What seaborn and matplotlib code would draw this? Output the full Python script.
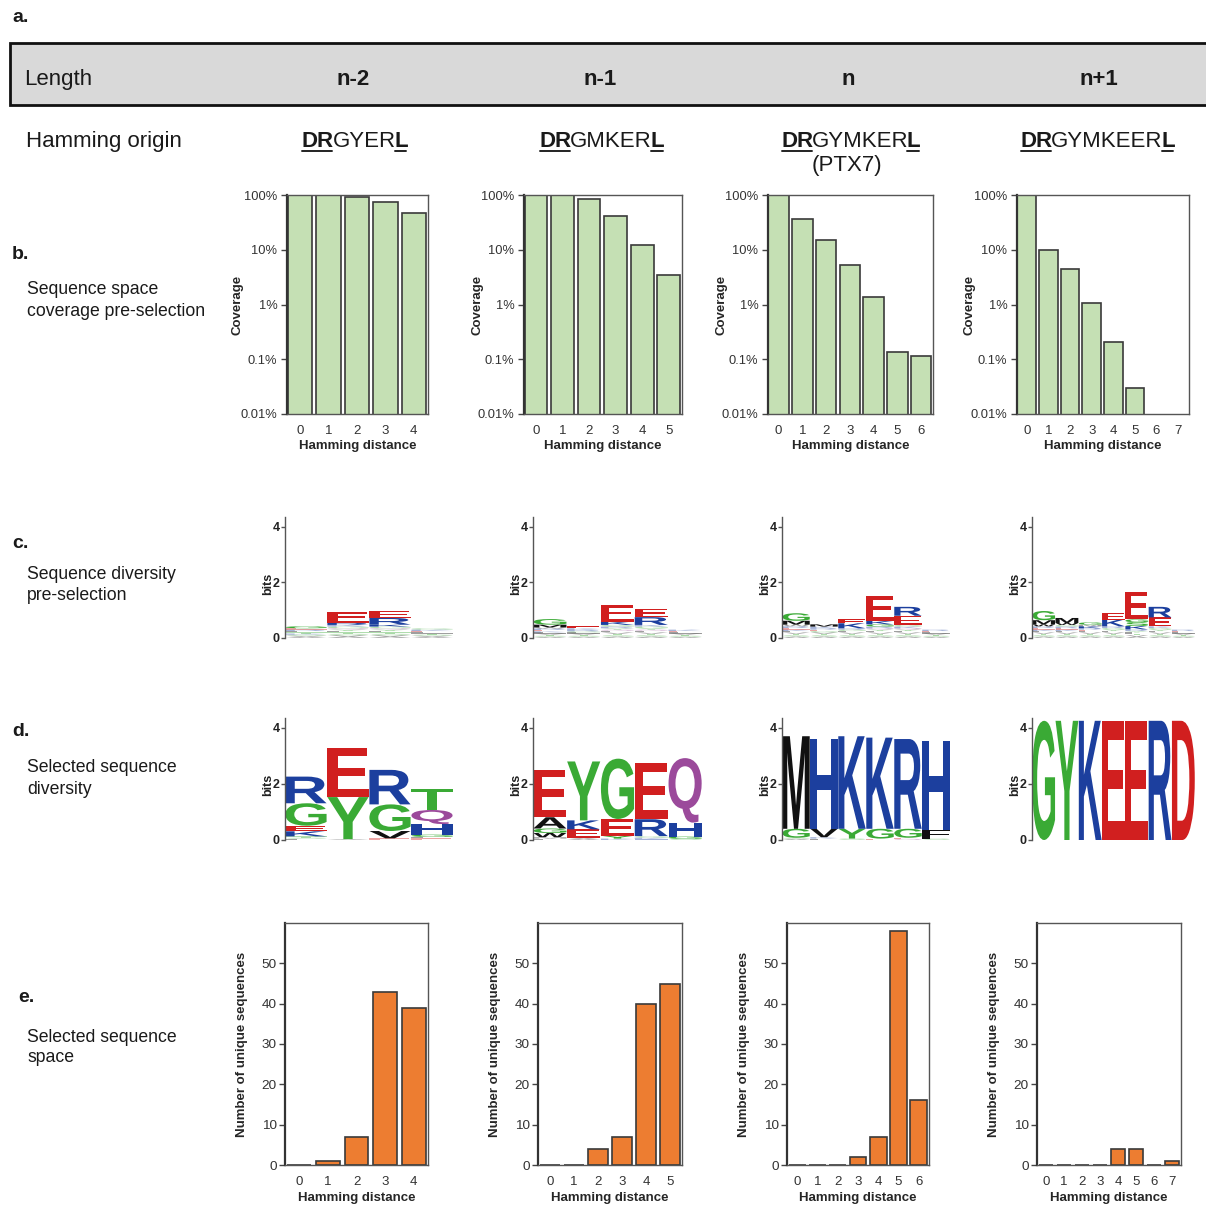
import numpy as np
import matplotlib
matplotlib.use("Agg")
import matplotlib.pyplot as plt
import seaborn as sns
from matplotlib.textpath import TextPath
from matplotlib.patches import PathPatch, Rectangle
from matplotlib.font_manager import FontProperties
from matplotlib.lines import Line2D
from matplotlib.ticker import NullLocator
import matplotlib.transforms as mtransforms

# ---------------- data ----------------
LENGTHS = ["n-2", "n-1", "n", "n+1"]
ORIGIN_MID = ["GYER", "GMKER", "GYMKER", "GYMKEER"]
ORIGIN_NOTE = ["", "", "(PTX7)", ""]

HD_N2 = [0, 1, 2, 3, 4]
HD_N1 = [0, 1, 2, 3, 4, 5]
HD_N = [0, 1, 2, 3, 4, 5, 6]
HD_NP1 = [0, 1, 2, 3, 4, 5, 6, 7]

# coverage pre-selection (%)
COV_N2 = [100, 100, 93, 73, 47]
COV_N1 = [100, 100, 83, 41, 12.3, 3.4]
COV_N = [100, 37, 15, 5.2, 1.38, 0.134, 0.117]
COV_NP1 = [100, 9.8, 4.4, 1.07, 0.21, 0.03, np.nan, np.nan]

# selected unique sequences
SEL_N2 = [0, 1, 7, 43, 39]
SEL_N1 = [0, 0, 4, 7, 40, 45]
SEL_N = [0, 0, 0, 2, 7, 58, 16]
SEL_NP1 = [0, 0, 0, 0, 4, 4, 0, 1]

COV_TICKS = [100, 10, 1, 0.1, 0.01]
COV_TICKLABELS = ["100%", "10%", "1%", "0.1%", "0.01%"]
SEL_TICKS = [0, 10, 20, 30, 40, 50]

# sequence logos: per position, letters bottom->top with heights in bits
PRE_N2 = [
    [("A", .04), ("V", .04), ("S", .04), ("K", .04), ("T", .04), ("L", .05), ("R", .05), ("E", .05), ("G", .07)],
    [("A", .05), ("V", .05), ("S", .05), ("T", .05), ("L", .05), ("Y", .05), ("Q", .05), ("G", .06), ("K", .06), ("R", .08), ("E", .38)],
    [("A", .05), ("V", .05), ("S", .05), ("T", .05), ("L", .05), ("Y", .05), ("Q", .05), ("G", .06), ("K", .07), ("R", .24), ("E", .24)],
    [("A", .04), ("V", .04), ("S", .04), ("T", .04), ("L", .04), ("E", .05), ("K", .05), ("G", .05)],
]
PRE_N1 = [
    [("A", .04), ("S", .04), ("T", .04), ("V", .04), ("L", .04), ("K", .04), ("E", .05), ("R", .05), ("W", .04), ("M", .10), ("G", .20)],
    [("A", .04), ("S", .04), ("T", .04), ("V", .04), ("L", .04), ("G", .04), ("R", .05), ("K", .06), ("E", .07)],
    [("A", .05), ("S", .05), ("T", .05), ("V", .05), ("L", .05), ("Q", .05), ("Y", .05), ("R", .06), ("G", .06), ("K", .12), ("E", .60)],
    [("A", .05), ("S", .05), ("T", .05), ("V", .05), ("L", .05), ("Q", .05), ("Y", .05), ("G", .06), ("K", .06), ("R", .28), ("E", .30)],
    [("A", .04), ("S", .04), ("T", .04), ("V", .04), ("L", .04), ("E", .05), ("K", .05)],
]
PRE_N = [
    [("A", .05), ("S", .05), ("T", .05), ("V", .05), ("L", .05), ("K", .05), ("E", .06), ("R", .06), ("W", .06), ("M", .14), ("G", .27)],
    [("A", .05), ("S", .05), ("T", .05), ("V", .05), ("G", .05), ("E", .05), ("R", .05), ("K", .06), ("M", .08)],
    [("A", .05), ("S", .05), ("T", .05), ("V", .05), ("L", .05), ("G", .05), ("R", .05), ("K", .18), ("E", .14)],
    [("A", .05), ("S", .05), ("T", .05), ("V", .05), ("L", .05), ("Y", .05), ("Q", .05), ("R", .06), ("G", .08), ("K", .12), ("E", .90)],
    [("A", .05), ("S", .05), ("T", .05), ("V", .05), ("L", .05), ("Y", .05), ("Q", .05), ("K", .06), ("G", .06), ("E", .33), ("R", .32)],
    [("A", .04), ("S", .04), ("T", .04), ("V", .04), ("L", .04), ("E", .05), ("R", .05)],
]
PRE_NP1 = [
    [("A", .05), ("S", .05), ("T", .05), ("V", .05), ("L", .05), ("K", .05), ("E", .06), ("R", .06), ("W", .07), ("M", .15), ("G", .33)],
    [("A", .05), ("S", .05), ("T", .05), ("V", .05), ("L", .05), ("K", .05), ("E", .05), ("R", .06), ("G", .06), ("W", .07), ("M", .18)],
    [("A", .05), ("S", .05), ("T", .05), ("V", .05), ("L", .05), ("E", .05), ("R", .05), ("K", .07), ("M", .06), ("G", .08)],
    [("A", .05), ("S", .05), ("T", .05), ("V", .05), ("L", .05), ("Y", .05), ("G", .06), ("R", .06), ("K", .24), ("E", .24)],
    [("A", .05), ("V", .05), ("T", .05), ("L", .05), ("Y", .05), ("R", .06), ("K", .12), ("S", .14), ("G", .10), ("E", 1.00)],
    [("A", .05), ("S", .05), ("T", .05), ("V", .05), ("L", .05), ("Y", .05), ("G", .06), ("K", .06), ("E", .32), ("R", .38)],
    [("A", .04), ("S", .04), ("T", .04), ("V", .04), ("L", .04), ("E", .05), ("R", .05)],
]

SEL_LOGO_N2 = [
    [("L", .04), ("S", .04), ("T", .05), ("K", .18), ("E", .20), ("G", .80), ("R", .95)],
    [("A", .03), ("Y", 1.50), ("E", 1.75)],
    [("E", .06), ("V", .26), ("G", .95), ("R", 1.23)],
    [("E", .06), ("L", .05), ("G", .08), ("H", .38), ("Q", .50), ("T", .76)],
]
SEL_LOGO_N1 = [
    [("L", .05), ("M", .05), ("W", .15), ("G", .16), ("A", .40), ("E", 1.70)],
    [("A", .04), ("V", .04), ("E", .30), ("K", .32), ("Y", 2.10)],
    [("K", .05), ("Y", .10), ("E", .60), ("G", 2.15)],
    [("H", .04), ("K", .04), ("G", .06), ("R", .60), ("E", 2.00)],
    [("S", .04), ("G", .08), ("H", .50), ("Q", 2.30)],
]
SEL_LOGO_N = [
    [("A", .04), ("S", .04), ("G", .32), ("M", 3.30)],
    [("L", .05), ("K", .05), ("V", .30), ("H", 3.20)],
    [("S", .05), ("Y", .35), ("K", 3.30)],
    [("E", .05), ("G", .35), ("K", 3.25)],
    [("Q", .04), ("E", .04), ("G", .32), ("R", 3.20)],
    [("S", .05), ("F", .32), ("H", 3.15)],
]
SEL_LOGO_NP1 = [
    [("G", 4.25)], [("Y", 4.25)], [("K", 4.25)], [("E", 4.25)],
    [("E", 4.25)], [("R", 4.25)], [("D", 4.25)],
]

# ---------------- style ----------------
GREEN_BAR = "#c5e0b4"
ORANGE_BAR = "#ed7d31"
EDGE = "#3a3a3a"
TXT = "#1a1a1a"
AA_COL = {}
for c in "GSTYC":
    AA_COL[c] = "#3aaa35"
for c in "KRH":
    AA_COL[c] = "#1c3f9e"
for c in "DE":
    AA_COL[c] = "#d11f1f"
for c in "QN":
    AA_COL[c] = "#9b4a9b"
for c in "AVLIPWFM":
    AA_COL[c] = "#111111"

sns.set_theme(style="white")
plt.rcParams["font.family"] = ["Liberation Sans", "DejaVu Sans"]
plt.rcParams["text.color"] = TXT

W, H = 1206, 1207
fig = plt.figure(figsize=(W / 100, H / 100), dpi=100)
fig.patch.set_facecolor("white")


def add_ax(x0, y0, x1, y1):
    return fig.add_axes([x0 / W, 1 - y1 / H, (x1 - x0) / W, (y1 - y0) / H])


def ftext(x, y, s, **kw):
    return fig.text(x / W, 1 - y / H, s, **kw)


# ---------------- header ----------------
ftext(12, 18, "a.", fontsize=14, fontweight="bold", va="center", ha="left")
fig.add_artist(Rectangle((10 / W, 1 - 105 / H), 1300 / W, 62 / H, transform=fig.transFigure,
                         facecolor="#d9d9d9", edgecolor="#111111", linewidth=2, clip_on=False))
ftext(24, 85, "Length", fontsize=16, va="baseline", ha="left")
LEN_X = [353, 600, 848, 1099]
for lx, lab in zip(LEN_X, LENGTHS):
    ftext(lx, 85, lab, fontsize=16, fontweight="bold", va="baseline", ha="center")

ftext(26, 147, "Hamming origin", fontsize=16, va="baseline", ha="left")
renderer = fig.canvas.get_renderer()
SEQ_X = [354, 601, 850, 1097]
for cx, mid, note in zip(SEQ_X, ORIGIN_MID, ORIGIN_NOTE):
    parts = [("DR", True), (mid, False), ("L", True)]
    objs = []
    widths = []
    for s, b in parts:
        t = ftext(0, 147, s, fontsize=16, fontweight="bold" if b else "normal", va="baseline", ha="left")
        objs.append(t)
        widths.append(t.get_window_extent(renderer).width - 1.5)
    x = cx - sum(widths) / 2
    for (s, b), t, w in zip(parts, objs, widths):
        t.set_x(x / W)
        if b:
            fig.add_artist(Line2D([(x + 0.5) / W, (x + w) / W], [1 - 150.5 / H, 1 - 150.5 / H],
                                  transform=fig.transFigure, color="#222222", linewidth=1.4))
        x += w
    if note:
        ftext(cx - 3, 165, note, fontsize=16, va="center", ha="center")

# ---------------- row labels ----------------
ROW_LABELS = [
    ("b.", 255, ["Sequence space", "coverage pre-selection"], [290, 311], 12),
    ("c.", 543, ["Sequence diversity", "pre-selection"], [575, 596], 12),
    ("d.", 732, ["Selected sequence", "diversity"], [768, 789], 12),
    ("e.", 998, ["Selected sequence", "space"], [1037, 1058], 18),
]
for lab, ly, lines, lys, lx in ROW_LABELS:
    ftext(lx, ly, lab, fontsize=14, fontweight="bold", va="center", ha="left")
    for s, yy in zip(lines, lys):
        ftext(27, yy, s, fontsize=12.7, va="center", ha="left")


def style_box(ax):
    for s in ["top", "right", "bottom"]:
        ax.spines[s].set_color("#555555")
        ax.spines[s].set_linewidth(1.0)
    ax.spines["left"].set_color("#333333")
    ax.spines["left"].set_linewidth(1.6)
    ax.tick_params(axis="y", left=True, length=4, width=1, color="#444444",
                   labelsize=9.3, pad=3, labelcolor="#333333")
    ax.tick_params(axis="x", bottom=False, labelsize=9.5, pad=2, labelcolor="#333333")


# ---------------- b: coverage ----------------
COV_BOXES = [(287, 428), (524, 682), (768, 933), (1017, 1189)]
COV_LABEL_X = [244, 484, 727, 976]
for (x0, x1), hd, vals, lx in zip(COV_BOXES, [HD_N2, HD_N1, HD_N, HD_NP1],
                                  [COV_N2, COV_N1, COV_N, COV_NP1], COV_LABEL_X):
    ax = add_ax(x0, 195, x1, 414)
    xs = [h for h, v in zip(hd, vals) if not np.isnan(v)]
    ys = [v for v in vals if not np.isnan(v)]
    sns.barplot(x=xs, y=ys, order=hd, color=GREEN_BAR, edgecolor=EDGE, linewidth=1.2,
                width=0.86, saturation=1, ax=ax)
    ax.set_yscale("log")
    ax.set_ylim(0.01, 100)
    ax.set_yticks(COV_TICKS)
    ax.set_yticklabels(COV_TICKLABELS)
    ax.yaxis.set_minor_locator(NullLocator())
    ax.set_xlim(-0.45, len(hd) - 0.5)
    style_box(ax)
    ax.set_xlabel("Hamming distance", fontsize=9.5, fontweight="bold", labelpad=2)
    ax.set_ylabel("Coverage", fontsize=9.5, fontweight="bold")
    ax.yaxis.set_label_coords((lx - x0) / (x1 - x0), 0.5)


# ---------------- logos ----------------
LETTER_FP = FontProperties(family="Liberation Sans", weight="bold")


def draw_letter(ax, ch, x, y, w, h, color, alpha):
    tp = TextPath((0, 0), ch, size=1, prop=LETTER_FP)
    bb = tp.get_extents()
    tr = mtransforms.Affine2D().translate(-bb.x0, -bb.y0).scale(w / bb.width, h / bb.height).translate(x, y)
    ax.add_patch(PathPatch(tr.transform_path(tp), facecolor=color, edgecolor="none", lw=0, alpha=alpha))


def draw_logo(ax, stacks, x0, x1, label_x):
    for i, stack in enumerate(stacks):
        y = 0.0
        for ch, hgt in stack:
            a = 0.4 if hgt < 0.065 else 1.0
            draw_letter(ax, ch, i - 0.49, y, 0.98, hgt, AA_COL[ch], a)
            y += hgt
    ax.set_xlim(-0.5, len(stacks) - 0.5)
    ax.set_ylim(0, 4.35)
    ax.patch.set_alpha(0)
    for s in ["top", "right", "bottom"]:
        ax.spines[s].set_visible(False)
    ax.spines["left"].set_color("#555555")
    ax.spines["left"].set_linewidth(1.0)
    ax.set_xticks([])
    ax.set_yticks([0, 2, 4])
    ax.set_yticklabels(["0", "2", "4"], fontweight="bold")
    ax.tick_params(axis="y", left=True, length=3, width=1, color="#555555", pad=1,
                   labelsize=9, labelcolor="#222222")
    ax.set_ylabel("bits", fontsize=9, fontweight="bold", color="#222222")
    ax.yaxis.set_label_coords((label_x - x0) / (x1 - x0), 0.45)


LOGO_X = [(285, 453), (533, 702), (782, 950), (1032, 1195)]
for (x0, x1), stacks in zip(LOGO_X, [PRE_N2, PRE_N1, PRE_N, PRE_NP1]):
    ax = add_ax(x0, 517, x1, 638)
    draw_logo(ax, stacks, x0, x1, x0 - 11)
for (x0, x1), stacks in zip(LOGO_X, [SEL_LOGO_N2, SEL_LOGO_N1, SEL_LOGO_N, SEL_LOGO_NP1]):
    ax = add_ax(x0, 718, x1, 840)
    draw_logo(ax, stacks, x0, x1, x0 - 11)

# ---------------- e: selected counts ----------------
SEL_BOXES = [(285, 428), (538, 682), (787, 929), (1037, 1181)]
for (x0, x1), hd, vals in zip(SEL_BOXES, [HD_N2, HD_N1, HD_N, HD_NP1],
                              [SEL_N2, SEL_N1, SEL_N, SEL_NP1]):
    ax = add_ax(x0, 923, x1, 1165)
    sns.barplot(x=hd, y=vals, order=hd, color=ORANGE_BAR, edgecolor=EDGE, linewidth=1.2,
                width=0.83, saturation=1, ax=ax)
    ax.set_ylim(0, 60)
    ax.set_yticks(SEL_TICKS)
    ax.set_xlim(-0.5, len(hd) - 0.5)
    style_box(ax)
    ax.tick_params(axis="y", labelsize=9.7, pad=2)
    ax.set_xlabel("Hamming distance", fontsize=9.5, fontweight="bold", labelpad=3)
    ax.set_ylabel("Number of unique sequences", fontsize=9.5, fontweight="bold")
    ax.yaxis.set_label_coords((248 - 285) / (x1 - x0), 0.5)

fig.savefig("out.png", dpi=100, facecolor="white")
